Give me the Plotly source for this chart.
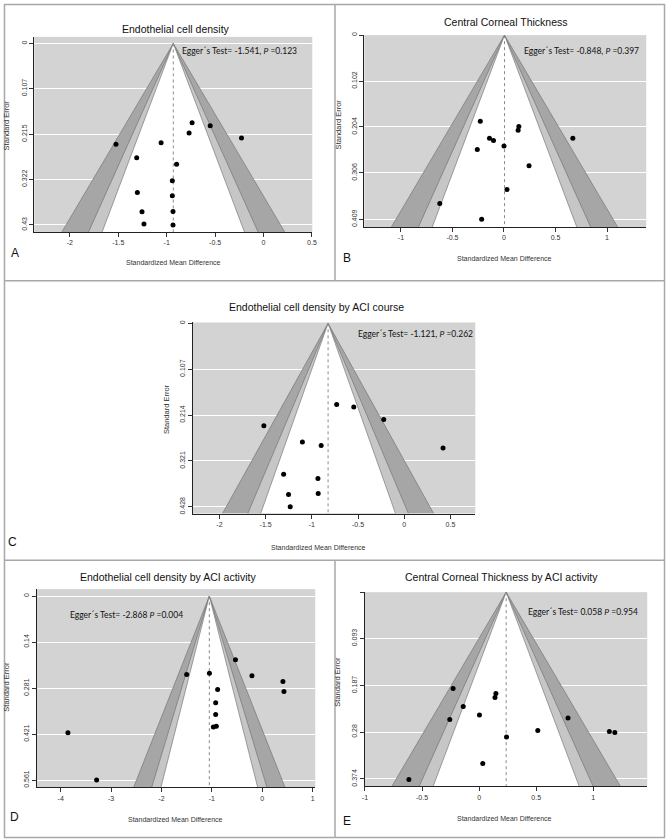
import plotly.graph_objects as go

# ─── Data ─────────────────────────────────────────────────────────────────────

W, H = 671, 840

# A: Endothelial cell density
a_smd = [-1.524, -1.058, -0.738, -0.769, -0.551, -0.228, -1.310, -0.898,
         -0.942, -1.303, -0.942, -1.255, -0.935, -1.235, -0.935]
a_se = [0.239, 0.235, 0.188, 0.212, 0.195, 0.224, 0.271, 0.286,
        0.325, 0.353, 0.361, 0.399, 0.398, 0.428, 0.430]
a_center = -0.932

# B: Central Corneal Thickness
b_smd = [-0.230, 0.144, 0.137, -0.141, -0.102, 0.668, 0.000, -0.259,
         0.243, 0.029, -0.623, -0.217]
b_se = [0.191, 0.203, 0.211, 0.229, 0.234, 0.229, 0.246, 0.254,
        0.290, 0.343, 0.374, 0.409]
b_center = 0.005

# C: Endothelial cell density by ACI course
c_smd = [-0.731, -0.546, -0.222, -1.519, 0.420, -1.102, -0.899, -1.305,
         -0.934, -1.252, -0.931, -1.234]
c_se = [0.189, 0.195, 0.224, 0.239, 0.291, 0.277, 0.285, 0.352,
        0.362, 0.399, 0.397, 0.428]
c_center = -0.824

# D: Endothelial cell density by ACI activity
d_smd = [-0.531, -1.500, -1.048, -0.204, 0.411, 0.431, -0.885, -0.924,
         -0.924, -0.970, -0.911, -3.856, -3.287]
d_se = [0.194, 0.239, 0.235, 0.243, 0.260, 0.291, 0.285, 0.325,
        0.361, 0.399, 0.397, 0.417, 0.561]
d_center = -1.05

# E: Central Corneal Thickness by ACI activity
e_smd = [-0.228, 0.147, 0.139, -0.139, 0.003, -0.257, 0.779, 0.514,
         1.141, 1.189, 0.240, 0.032, -0.615]
e_se = [0.193, 0.203, 0.211, 0.229, 0.246, 0.255, 0.252, 0.277,
        0.279, 0.281, 0.290, 0.343, 0.375]
e_center = 0.237

titles = ["Endothelial cell density", "Central Corneal Thickness",
          "Endothelial cell density by ACI course",
          "Endothelial cell density by ACI activity",
          "Central Corneal Thickness by ACI activity"]
egger = ["Egger´s Test= -1.541, <i>P</i> =0.123",
         "Egger´s Test= -0.848, <i>P</i> =0.397",
         "Egger´s Test= -1.121, <i>P</i> =0.262",
         "Egger´s Test= -2.868 <i>P</i> =0.004",
         "Egger´s Test= 0.058 <i>P</i> =0.954"]
letters = ["A", "B", "C", "D", "E"]

x_ticks = [[-2, -1.5, -1, -0.5, 0, 0.5],
           [-1, -0.5, 0, 0.5, 1],
           [-2, -1.5, -1, -0.5, 0, 0.5],
           [-4, -3, -2, -1, 0, 1],
           [-1, -0.5, 0, 0.5, 1]]
y_ticks = [[0, 0.107, 0.215, 0.322, 0.43],
           [0, 0.102, 0.204, 0.306, 0.409],
           [0, 0.107, 0.214, 0.321, 0.428],
           [0, 0.14, 0.281, 0.421, 0.561],
           [0, 0.093, 0.187, 0.28, 0.374]]
y_ticklabels = [["0", "0.107", "0.215", "0.322", "0.43"],
                ["0", "0.102", "0.204", "0.306", "0.409"],
                ["0", "0.107", "0.214", "0.321", "0.428"],
                ["0", "0.14", "0.281", "0.421", "0.561"],
                ["", "0.093", "0.187", "0.28", "0.374"]]

# funnel levels 90 / 95 / 99 %
Z_LEVELS = [2.576, 1.960, 1.645]
SHADES = ["#a6a6a6", "#c6c6c6", "#ffffff"]

# ─── Layout (pixels) ──────────────────────────────────────────────────────────

# plot-area box: left, right, top, bottom
BOXES = [(31.7, 313, 34, 230), (365.7, 651, 32.3, 225), (192, 478, 321, 513),
         (34, 316, 589, 788), (366, 652, 592, 787)]
X_RANGES = [[-2.367, 0.503], [-1.355, 1.380], [-2.289, 0.769],
            [-4.478, 1.052], [-1.003, 1.473]]
Y_RANGES = [[0.4465, -0.0157], [0.426, 0.0], [0.4436, -0.002],
            [0.583, -0.0212], [0.3886, 0.0]]

TITLE_POS = [(175, 26), (509, 19), (317, 305), (167, 577), (505, 577)]
EGGER_POS = [(300, 48, "right"), (646, 48, "right"), (478, 333, "right"),
             (66, 615, "left"), (645, 612, "right")]
LETTER_POS = [(12, 251), (348, 256), (10, 542), (12, 818), (348, 822)]
XTITLE_POS = [(173, 261), (508, 257), (319, 547), (175, 820), (508, 819)]
YTITLE_POS = [(3, 123), (339, 122), (165, 408), (4, 687), (339, 682)]


def px(x):
    return x / W


def py(y):
    return 1 - y / H


def note(x, y, text, size, family, color="#111", anchor="center", angle=0):
    return dict(x=px(x), y=py(y), text=text, showarrow=False,
                xref="paper", yref="paper", xanchor=anchor, yanchor="middle",
                textangle=angle,
                font=dict(family=family, size=size, color=color))


panels = [(a_smd, a_se, a_center), (b_smd, b_se, b_center),
          (c_smd, c_se, c_center), (d_smd, d_se, d_center),
          (e_smd, e_se, e_center)]

fig = go.Figure()
annotations = []
FONT = "Liberation Sans, Arial, sans-serif"
EGGER_FONT = "Lato, Carlito, sans-serif"

for i, (smd, se, center) in enumerate(panels):
    n = "" if i == 0 else str(i + 1)
    xa, ya = "x" + n, "y" + n
    ymax = Y_RANGES[i][0]

    # funnel regions, widest first
    for z, shade in zip(Z_LEVELS, SHADES):
        fig.add_trace(go.Scatter(
            x=[center - z * ymax, center, center + z * ymax],
            y=[ymax, 0, ymax],
            fill="toself", fillcolor=shade, mode="lines",
            line=dict(color="#6a6a6a", width=0.6),
            hoverinfo="skip", xaxis=xa, yaxis=ya,
        ))

    # vertical line at the pooled estimate
    fig.add_trace(go.Scatter(
        x=[center, center], y=[0, ymax], mode="lines",
        line=dict(color="#8a8a8a", width=1, dash="dot"),
        hoverinfo="skip", xaxis=xa, yaxis=ya,
    ))

    # studies
    fig.add_trace(go.Scatter(
        x=smd, y=se, mode="markers",
        marker=dict(size=5, color="black"),
        xaxis=xa, yaxis=ya,
    ))

    l, r, t, b = BOXES[i]
    axis_common = dict(
        ticks="outside", ticklen=4, tickcolor="#333", tickwidth=1,
        showline=True, linecolor="#222", linewidth=1,
        zeroline=False, fixedrange=True,
        tickfont=dict(family=FONT, size=7, color="#333"),
    )
    fig.layout["xaxis" + n] = dict(
        domain=[px(l), px(r)], range=X_RANGES[i], anchor=ya,
        tickvals=x_ticks[i], ticktext=[f"{v:g}" for v in x_ticks[i]],
        showgrid=False, **axis_common,
    )
    fig.layout["yaxis" + n] = dict(
        domain=[py(b), py(t)], range=Y_RANGES[i], anchor=xa,
        tickvals=y_ticks[i], ticktext=y_ticklabels[i], tickangle=-90,
        showgrid=True, gridcolor="white", gridwidth=1, **axis_common,
    )

    tx, ty = TITLE_POS[i]
    annotations.append(note(tx, ty, titles[i], 10.5, FONT))
    ex, ey, anc = EGGER_POS[i]
    annotations.append(note(ex, ey, egger[i], 8.5, EGGER_FONT, anchor=anc))
    lx, ly = LETTER_POS[i]
    annotations.append(note(lx, ly, letters[i], 12, FONT))
    xx, xy = XTITLE_POS[i]
    annotations.append(note(xx, xy, "Standardized Mean Difference", 7, FONT,
                            color="#333"))
    yx, yy = YTITLE_POS[i]
    annotations.append(note(yx, yy, "Standard Error", 7.5, FONT,
                            color="#333", angle=-90))

# panel borders
BORDER = dict(color="#a8a8a8", width=1.5)
shapes = [
    dict(type="rect", xref="paper", yref="paper",
         x0=px(1.5), x1=px(669.5), y0=py(838.5), y1=py(1.5), line=BORDER),
    dict(type="line", xref="paper", yref="paper",
         x0=px(1.5), x1=px(669.5), y0=py(279), y1=py(279), line=BORDER),
    dict(type="line", xref="paper", yref="paper",
         x0=px(1.5), x1=px(669.5), y0=py(560), y1=py(560), line=BORDER),
    dict(type="line", xref="paper", yref="paper",
         x0=px(336), x1=px(336), y0=py(1.5), y1=py(279), line=BORDER),
    dict(type="line", xref="paper", yref="paper",
         x0=px(336), x1=px(336), y0=py(560), y1=py(838.5), line=BORDER),
]

fig.update_layout(
    width=W, height=H,
    margin=dict(l=0, r=0, t=0, b=0),
    paper_bgcolor="white", plot_bgcolor="#d3d3d3",
    showlegend=False,
    hovermode=False,
    annotations=annotations,
    shapes=shapes,
)

# the page's default body margin would shift the figure inside the window
fig.write_html("out.html",
               config={"displayModeBar": False, "staticPlot": True},
               post_script="document.body.style.margin='0';"
                           "document.body.style.overflow='hidden';")
